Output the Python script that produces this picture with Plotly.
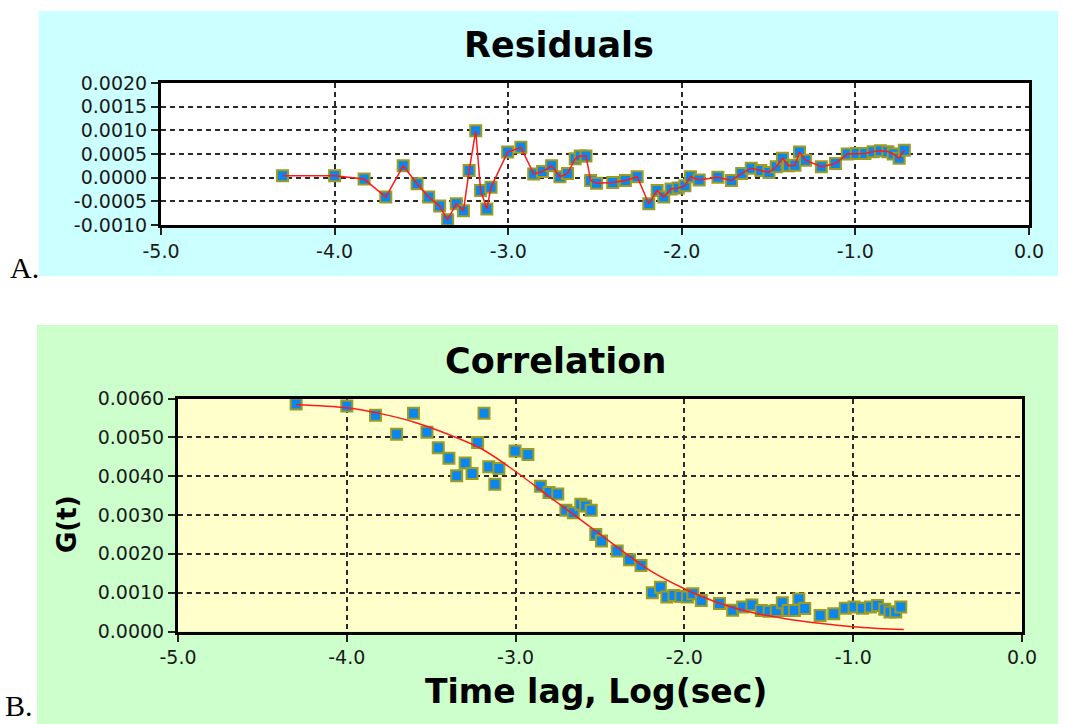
import plotly.graph_objects as go

W, H = 1067, 724

# ---------------- data ----------------
log_lag = [-4.300, -4.000, -3.830, -3.705, -3.605, -3.525, -3.458, -3.395, -3.349, -3.299,
           -3.258, -3.225, -3.187, -3.159, -3.123, -3.099, -3.003, -2.927, -2.853, -2.802,
           -2.750, -2.702, -2.658, -2.614, -2.585, -2.552, -2.525, -2.491, -2.398, -2.325,
           -2.257, -2.190, -2.142, -2.104, -2.062, -2.021, -1.982, -1.950, -1.900, -1.792,
           -1.714, -1.655, -1.600, -1.545, -1.498, -1.456, -1.420, -1.385, -1.348, -1.322,
           -1.287, -1.196, -1.115, -1.047, -0.995, -0.945, -0.898, -0.856, -0.813, -0.782,
           -0.748, -0.718]

residuals = [0.00004, 0.00004, -0.00003, -0.00041, 0.00025, -0.00013, -0.00041, -0.00060, -0.00089, -0.00055,
             -0.00070, 0.00015, 0.00099, -0.00027, -0.00066, -0.00020, 0.00054, 0.00064, 0.00008, 0.00013,
             0.00025, 0.00002, 0.00009, 0.00040, 0.00046, 0.00046, -0.00006, -0.00012, -0.00010, -0.00006,
             0.00002, -0.00055, -0.00027, -0.00041, -0.00024, -0.00022, -0.00017, 0.00002, -0.00005, 0.00001,
             -0.00006, 0.00009, 0.00020, 0.00015, 0.00011, 0.00023, 0.00041, 0.00025, 0.00026, 0.00054,
             0.00037, 0.00023, 0.00030, 0.00050, 0.00051, 0.00051, 0.00055, 0.00057, 0.00055, 0.00050,
             0.00041, 0.00058]

correlation = [0.00586, 0.00581, 0.00557, 0.00508, 0.00562, 0.00513, 0.00473, 0.00446, 0.00401, 0.00434,
               0.00407, 0.00487, 0.00562, 0.00424, 0.00379, 0.00420, 0.00465, 0.00456, 0.00374, 0.00358,
               0.00354, 0.00312, 0.00306, 0.00328, 0.00323, 0.00312, 0.00250, 0.00233, 0.00207, 0.00185,
               0.00170, 0.00100, 0.00114, 0.00089, 0.00093, 0.00090, 0.00089, 0.00097, 0.00080, 0.00072,
               0.00055, 0.00063, 0.00068, 0.00054, 0.00052, 0.00054, 0.00074, 0.00054, 0.00054, 0.00084,
               0.00059, 0.00041, 0.00046, 0.00060, 0.00063, 0.00060, 0.00063, 0.00067, 0.00057, 0.00050,
               0.00050, 0.00063]

fit_lag = [-4.30, -4.00, -3.80, -3.60, -3.40, -3.20, -3.00, -2.80, -2.60, -2.40,
           -2.20, -2.00, -1.80, -1.60, -1.40, -1.20, -1.00, -0.85, -0.70]
fit_curve = [0.00584, 0.00576, 0.00561, 0.00539, 0.00508, 0.00470, 0.00412, 0.00347, 0.00283, 0.00218,
             0.00156, 0.00110, 0.00074, 0.00049, 0.00033, 0.00021, 0.00012, 0.00008, 0.00005]

x_tick_vals = [-5, -4, -3, -2, -1, 0]
x_tick_text = ["-5.0", "-4.0", "-3.0", "-2.0", "-1.0", "0.0"]
res_tick_vals = [-0.0010, -0.0005, 0.0, 0.0005, 0.0010, 0.0015, 0.0020]
res_tick_text = ["-0.0010", "-0.0005", "0.0000", "0.0005", "0.0010", "0.0015", "0.0020"]
g_tick_vals = [0.0, 0.001, 0.002, 0.003, 0.004, 0.005, 0.006]
g_tick_text = ["0.0000", "0.0010", "0.0020", "0.0030", "0.0040", "0.0050", "0.0060"]

# ---------------- styling ----------------
MARK_FILL = "#0a86f0"
MARK_EDGE = "#9c9c22"
RED = "#ff1a1a"
TICK_FONT = dict(family="DejaVu Sans", size=19, color="#1a1a1a")
BOLD = "DejaVu Sans"


def fx(px):
    return px / W


def fy(py):
    return 1 - py / H


fig = go.Figure()

marker = dict(symbol="square", size=11, color=MARK_FILL, line=dict(color=MARK_EDGE, width=2))

# residuals panel
fig.add_trace(go.Scatter(x=log_lag, y=residuals, mode="markers", marker=marker,
                         xaxis="x", yaxis="y", showlegend=False, hoverinfo="skip"))
fig.add_trace(go.Scatter(x=log_lag, y=residuals, mode="lines", line=dict(color=RED, width=1.5),
                         xaxis="x", yaxis="y", showlegend=False))

# correlation panel
fig.add_trace(go.Scatter(x=log_lag, y=correlation, mode="markers", marker=marker,
                         xaxis="x2", yaxis="y2", showlegend=False))
fig.add_trace(go.Scatter(x=fit_lag, y=fit_curve, mode="lines", line=dict(color=RED, width=1.5, shape="spline"),
                         xaxis="x2", yaxis="y2", showlegend=False))

common_axis = dict(showline=True, mirror=True, linecolor="black", linewidth=3,
                   ticks="outside", ticklen=7, tickwidth=1.5, tickcolor="#222",
                   showgrid=True, gridcolor="#2a2a2a", gridwidth=2, griddash="5px,4px",
                   zeroline=False, tickfont=TICK_FONT, fixedrange=True, automargin=False)

fig.update_layout(
    width=W, height=H,
    margin=dict(l=0, r=0, t=0, b=0, pad=0),
    paper_bgcolor="white",
    plot_bgcolor="rgba(0,0,0,0)",
    xaxis=dict(domain=[fx(161), fx(1029)], anchor="y", range=[-5, 0],
               tickvals=x_tick_vals, ticktext=x_tick_text, **common_axis),
    yaxis=dict(domain=[fy(225), fy(83)], anchor="x", range=[-0.0010, 0.0020],
               tickvals=res_tick_vals, ticktext=res_tick_text, **common_axis),
    xaxis2=dict(domain=[fx(178), fx(1022)], anchor="y2", range=[-5, 0],
                tickvals=x_tick_vals, ticktext=x_tick_text, **common_axis),
    yaxis2=dict(domain=[fy(631.5), fy(398.5)], anchor="x2", range=[0, 0.006],
                tickvals=g_tick_vals, ticktext=g_tick_text, **common_axis),
    shapes=[
        dict(type="rect", xref="paper", yref="paper", x0=fx(39), x1=fx(1058), y0=fy(276), y1=fy(11),
             fillcolor="#ccffff", line=dict(width=0), layer="below"),
        dict(type="rect", xref="paper", yref="paper", x0=fx(37), x1=fx(1058), y0=fy(724), y1=fy(325),
             fillcolor="#ccffcc", line=dict(width=0), layer="below"),
        dict(type="rect", xref="x", yref="y", x0=-5, x1=0, y0=-0.0010, y1=0.0020,
             fillcolor="white", line=dict(width=0), layer="below"),
        dict(type="rect", xref="x2", yref="y2", x0=-5, x1=0, y0=0, y1=0.006,
             fillcolor="#ffffcc", line=dict(width=0), layer="below"),
    ],
    annotations=[
        dict(text="<b>Residuals</b>", xref="paper", yref="paper", x=fx(559), y=fy(45),
             showarrow=False, font=dict(family=BOLD, size=35, color="black"), xanchor="center", yanchor="middle"),
        dict(text="<b>Correlation</b>", xref="paper", yref="paper", x=fx(555), y=fy(361),
             showarrow=False, font=dict(family=BOLD, size=35, color="black"), xanchor="center", yanchor="middle"),
        dict(text="<b>Time lag, Log(sec)</b>", xref="paper", yref="paper", x=fx(596), y=fy(691),
             showarrow=False, font=dict(family=BOLD, size=33, color="black"), xanchor="center", yanchor="middle"),
        dict(text="<b>G(t)</b>", xref="paper", yref="paper", x=fx(67), y=fy(524), textangle=-90,
             showarrow=False, font=dict(family=BOLD, size=26, color="black"), xanchor="center", yanchor="middle"),
        dict(text="A.", xref="paper", yref="paper", x=fx(8), y=fy(267),
             showarrow=False, font=dict(family="Liberation Serif", size=30, color="black"), xanchor="left", yanchor="middle"),
        dict(text="B.", xref="paper", yref="paper", x=fx(3), y=fy(705),
             showarrow=False, font=dict(family="Liberation Serif", size=30, color="black"), xanchor="left", yanchor="middle"),
    ],
)

fig.write_html("out.html",
               config={"displayModeBar": False},
               post_script="document.body.style.margin='0';document.body.style.overflow='hidden';")
